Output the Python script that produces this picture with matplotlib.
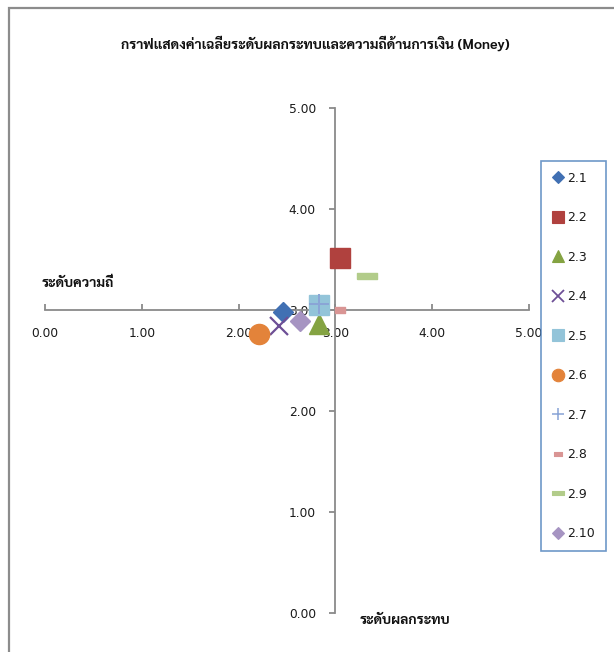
import matplotlib
matplotlib.use("Agg")
import matplotlib.pyplot as plt
from matplotlib import font_manager
from matplotlib.lines import Line2D
from matplotlib.patches import Rectangle

# ---- data -------------------------------------------------------------
items = ["2.1", "2.2", "2.3", "2.4", "2.5", "2.6", "2.7", "2.8", "2.9", "2.10"]
frequency = [2.46, 3.05, 2.83, 2.42, 2.83, 2.21, 2.83, 3.05, 3.33, 2.63]   # horizontal
impact = [2.98, 3.51, 2.86, 2.84, 3.05, 2.76, 3.06, 3.00, 3.34, 2.89]      # vertical
tick_values = [0, 1, 2, 3, 4, 5]
tick_labels = ["0.00", "1.00", "2.00", "3.00", "4.00", "5.00"]

title = "กราฟแสดงค่าเฉลี่ยระดับผลกระทบและความถี่ด้านการเงิน (Money)"
x_title = "ระดับความถี่"
y_title = "ระดับผลกระทบ"

# ---- fonts ------------------------------------------------------------
def has_bold(name):
    for f in font_manager.fontManager.ttflist:
        if f.name == name and "wght" not in f.fname:
            w = f.weight
            if (isinstance(w, int) and w >= 700) or (isinstance(w, str) and "bold" in w.lower()):
                return True
    return False

thai_font = next((n for n in ["Noto Sans Thai", "Noto Sans Thai UI", "Sarabun",
                              "Bai Jamjuree", "Athiti", "Chakra Petch"] if has_bold(n)),
                 "DejaVu Sans")
plt.rcParams["font.family"] = ["DejaVu Sans"]
thai_family = [thai_font, "DejaVu Sans"]

# ---- marker styles ----------------------------------------------------
short_bar = [(-1, -0.5), (1, -0.5), (1, 0.5), (-1, 0.5), (-1, -0.5)]
long_bar = [(-1, -0.25), (1, -0.25), (1, 0.25), (-1, 0.25), (-1, -0.25)]
styles = [
    dict(marker="D", color="#4170B3", ms=10),
    dict(marker="s", color="#B0413E", ms=14.5),
    dict(marker="^", color="#84A342", ms=14),
    dict(marker="x", color="#6D4F96", ms=13, mew=1.6),
    dict(marker="s", color="#93C4D9", ms=14.5),
    dict(marker="o", color="#E3833A", ms=14.5),
    dict(marker="+", color="#8AA5D6", ms=14, mew=1.4),
    dict(marker=short_bar, color="#D99594", ms=7.5),
    dict(marker=long_bar, color="#B2CC8A", ms=15),
    dict(marker="D", color="#A694C2", ms=10),
]
legend_scale = [0.65, 0.58, 0.62, 0.62, 0.58, 0.62, 0.65, 0.85, 0.62, 0.65]

W, H = 614, 652
fig = plt.figure(figsize=(W / 100, H / 100), dpi=100)
ax = fig.add_axes([45 / W, 1 - 613 / H, (529 - 45) / W, (613 - 108) / H])

for name, fx, iy, st in zip(items, frequency, impact, styles):
    ax.plot([fx], [iy], linestyle="none", marker=st["marker"], ms=st["ms"],
            color=st["color"], markeredgecolor=st["color"],
            mew=st.get("mew", 1.0), zorder=3, label=name, clip_on=False)

ax.set_xlim(0, 5)
ax.set_ylim(0, 5)
ax.set_xticks(tick_values)
ax.set_xticklabels(tick_labels)
ax.set_yticks(tick_values)
ax.set_yticklabels(tick_labels)

axis_grey = "#8A8A8A"
for side in ["top", "right"]:
    ax.spines[side].set_visible(False)
ax.spines["left"].set_position(("data", 3))
ax.spines["bottom"].set_position(("data", 3))
for side in ["left", "bottom"]:
    ax.spines[side].set_color(axis_grey)
    ax.spines[side].set_linewidth(1.3)
ax.tick_params(axis="x", direction="in", length=4, width=1.3, color=axis_grey,
               pad=12, labelsize=8.8, labelcolor="#1a1a1a")
ax.tick_params(axis="y", direction="out", length=4, width=1.3, color=axis_grey,
               pad=10, labelsize=8.8, labelcolor="#1a1a1a")
ax.patch.set_visible(False)

# titles
fig.text(315 / W, 1 - 44 / H, title, ha="center", va="center",
         fontsize=10.1, fontweight="bold", family=thai_family, color="#111111")
fig.text(42 / W, 1 - 283 / H, x_title, ha="left", va="center",
         fontsize=10, fontweight="bold", family=thai_family, color="#111111")
fig.text(360 / W, 1 - 620 / H, y_title, ha="left", va="center",
         fontsize=10, fontweight="bold", family=thai_family, color="#111111")

# legend
handles = [Line2D([], [], linestyle="none", marker=st["marker"], ms=st["ms"] * s,
                  color=st["color"], markeredgecolor=st["color"],
                  mew=st.get("mew", 1.0) * 0.8)
           for st, s in zip(styles, legend_scale)]
leg = fig.legend(handles, items, loc="upper left",
                 bbox_to_anchor=(541 / W, 1 - 161 / H), borderaxespad=0,
                 fontsize=9, frameon=True, fancybox=False, borderpad=0.85,
                 handlelength=1.0, handletextpad=0.25, labelspacing=2.12,
                 labelcolor="#1a1a1a")
leg.get_frame().set_edgecolor("#4A7EBB")
leg.get_frame().set_linewidth(1.2)

# chart border (top and left edges visible inside the canvas)
bx, by = 8.5 / W, 1 - 8.5 / H
fig.patches.append(Rectangle((bx, -0.2), 1.5, by + 0.2,
                             transform=fig.transFigure, fill=False,
                             edgecolor="#8C8C8C", linewidth=1.6))

fig.savefig("out.png", dpi=100)
